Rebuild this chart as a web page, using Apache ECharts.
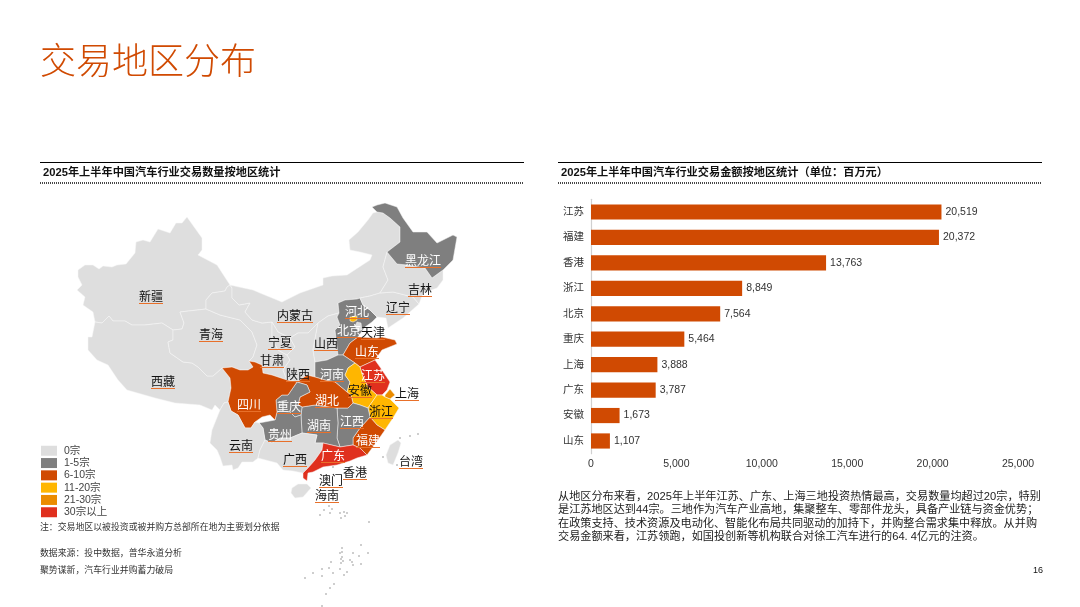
<!DOCTYPE html>
<html><head><meta charset="utf-8">
<style>html,body{margin:0;padding:0;background:#fff}#c{width:1080px;height:607px}</style>
<script src="https://cdn.jsdelivr.net/npm/echarts@6/dist/echarts.min.js"></script>
</head><body><div id="c"></div>
<script>
// ---- data ----
const barCategories = ['江苏','福建','香港','浙江','北京','重庆','上海','广东','安徽','山东'];
const barValues = [20519,20372,13763,8849,7564,5464,3888,3787,1673,1107];

const legendBands = [
  {label:'0宗', min:0, max:0, color:'#DEDEDE'},
  {label:'1-5宗', min:1, max:5, color:'#7F7F7F'},
  {label:'6-10宗', min:6, max:10, color:'#D04A02'},
  {label:'11-20宗', min:11, max:20, color:'#FFB600'},
  {label:'21-30宗', min:21, max:30, color:'#EB8C00'},
  {label:'30宗以上', min:31, max:999, color:'#E0301E'}
];

// deal count per region (estimated within the band shown by its colour)
const dealCounts = {
  新疆:0,西藏:0,青海:0,甘肃:0,内蒙古:0,宁夏:0,陕西:0,山西:0,辽宁:0,吉林:0,天津:0,云南:0,广西:0,海南:0,台湾:0,香港:0,澳门:0,
  黑龙江:2,河北:3,河南:4,重庆:3,贵州:2,湖南:4,江西:3,
  山东:8,四川:7,湖北:8,福建:7,
  北京:15,安徽:14,浙江:17,
  上海:24,
  广东:32,江苏:44
};

// regions whose name sits on a dark fill
const whiteLabelRegions = ['黑龙江','河北','北京','河南','重庆','贵州','湖南','江西','山东','四川','湖北','福建','广东','江苏'];

// hand-traced province outlines, in the map's own units
const outlines = {
  新疆:[[187,217],[202,238],[202,250],[198,255],[217,265],[230,285],[227,287],[225,291],[212,293],[206,300],[206,309],[180,312],[184,323],[182,329],[173,330],[162,323],[145,325],[132,325],[125,321],[113,321],[109,316],[102,323],[95,322],[93,312],[83,305],[85,297],[77,290],[82,285],[78,277],[78,270],[85,265],[93,265],[99,269],[103,266],[112,267],[117,265],[126,264],[135,253],[136,242],[143,240],[150,242],[158,229],[170,233],[176,223],[182,223]],
  西藏:[[95,322],[102,323],[109,316],[113,321],[125,321],[132,325],[145,325],[162,323],[173,330],[173,340],[168,342],[170,353],[183,362],[192,363],[198,367],[207,376],[213,376],[222,368],[230,378],[231,388],[228,402],[224,403],[220,410],[215,405],[212,410],[200,405],[175,403],[155,398],[127,390],[118,380],[108,365],[97,360],[88,350],[88,337],[92,337]],
  青海:[[180,312],[206,309],[220,315],[240,320],[252,332],[257,345],[253,357],[249,361],[253,367],[248,370],[240,370],[232,367],[222,368],[213,376],[207,376],[198,367],[192,363],[183,362],[170,353],[168,342],[173,340],[173,330],[182,329],[184,323]],
  甘肃:[[230,285],[232,288],[232,298],[239,305],[250,303],[245,312],[252,320],[262,323],[272,322],[272,338],[278,350],[287,355],[290,360],[283,370],[287,380],[272,375],[263,373],[262,365],[255,362],[249,361],[253,357],[257,345],[252,332],[240,320],[220,315],[206,309],[206,300],[212,293],[225,291],[227,287]],
  内蒙古:[[230,285],[253,290],[260,293],[282,302],[300,293],[323,285],[323,278],[332,276],[347,275],[370,260],[372,255],[360,252],[350,250],[349,240],[358,232],[368,220],[373,213],[377,212],[383,213],[390,218],[400,227],[400,242],[387,252],[383,267],[388,280],[380,293],[370,296],[360,298],[357,299],[345,300],[338,303],[339,313],[328,316],[318,323],[308,333],[298,333],[290,338],[278,332],[272,322],[262,323],[252,320],[245,312],[250,303],[239,305],[232,298],[232,288]],
  宁夏:[[272,322],[278,332],[290,338],[295,347],[287,355],[278,350],[272,338]],
  陕西:[[298,333],[308,333],[318,323],[313,350],[315,362],[315,370],[315,377],[307,375],[297,382],[287,380],[283,370],[290,360],[287,355],[295,347],[290,338]],
  山西:[[318,323],[328,316],[339,313],[337,317],[340,325],[335,330],[337,347],[338,355],[327,360],[315,362],[313,350]],
  河北:[[338,303],[345,300],[357,299],[360,298],[363,305],[370,310],[377,317],[372,322],[365,327],[360,334],[358,337],[350,343],[343,355],[338,355],[337,347],[335,330],[340,325],[337,317],[339,313]],
  北京:[[350,317],[357,316],[357,320],[353,322],[350,321]],
  天津:[[357,322],[361,323],[362,330],[358,331],[355,326]],
  辽宁:[[360,298],[370,296],[380,293],[393,292],[413,297],[419,304],[403,318],[388,328],[386,318],[377,317],[370,310],[363,305]],
  吉林:[[387,252],[392,258],[397,264],[407,265],[425,268],[432,278],[443,270],[443,280],[437,288],[423,293],[419,304],[413,297],[393,292],[380,293],[388,280],[383,267]],
  黑龙江:[[372,207],[377,205],[385,203],[397,207],[403,218],[413,232],[427,232],[437,243],[453,235],[457,237],[453,260],[443,270],[432,278],[425,268],[407,265],[397,264],[392,258],[387,252],[400,242],[400,227],[390,218],[383,213],[377,212]],
  山东:[[343,355],[350,343],[358,337],[377,338],[382,337],[395,340],[397,344],[382,350],[375,360],[360,367],[355,363]],
  河南:[[315,362],[327,360],[338,355],[343,355],[355,363],[348,368],[345,375],[350,382],[347,392],[335,382],[325,380],[315,377],[315,370]],
  江苏:[[360,367],[375,360],[380,367],[390,382],[387,390],[382,395],[377,395],[368,387],[363,377]],
  安徽:[[355,363],[360,367],[363,377],[368,387],[377,395],[370,405],[368,408],[360,405],[353,403],[351,395],[347,392],[350,382],[345,375],[348,368]],
  上海:[[385,395],[390,389],[395,395],[390,399],[385,397]],
  浙江:[[377,395],[382,395],[385,397],[390,399],[399,408],[393,418],[385,430],[377,425],[370,417],[368,408],[370,405]],
  福建:[[370,417],[377,425],[385,430],[378,440],[367,455],[360,448],[353,445],[353,438],[360,428]],
  江西:[[337,408],[348,408],[353,403],[360,405],[368,408],[370,417],[360,428],[353,438],[353,445],[340,447],[337,438],[338,423]],
  湖南:[[302,407],[315,405],[337,408],[338,423],[337,438],[340,447],[323,443],[315,443],[317,435],[302,433],[301,415]],
  湖北:[[307,375],[315,377],[325,380],[335,382],[347,392],[351,395],[353,403],[348,408],[337,408],[315,405],[302,407],[298,405],[300,397],[310,392],[307,385],[297,382]],
  重庆:[[297,382],[307,385],[310,392],[300,397],[298,405],[302,407],[301,415],[295,417],[290,412],[280,411],[277,412],[276,400],[282,395],[288,395]],
  贵州:[[259,423],[275,420],[277,412],[280,411],[290,412],[295,417],[301,415],[302,433],[290,438],[280,438],[272,443],[265,440],[263,428]],
  四川:[[222,368],[232,367],[240,370],[248,370],[253,367],[249,361],[255,362],[262,365],[263,373],[272,375],[287,380],[297,382],[288,395],[282,395],[276,400],[277,412],[275,420],[270,415],[262,417],[255,422],[251,428],[245,428],[238,415],[231,411],[228,402],[231,388],[230,378]],
  云南:[[228,402],[231,411],[238,415],[245,428],[251,428],[255,422],[259,423],[263,428],[265,440],[260,450],[258,458],[253,462],[242,462],[238,468],[233,470],[232,465],[223,466],[220,457],[217,450],[210,443],[212,430],[220,410],[224,403]],
  广西:[[265,440],[272,443],[280,438],[290,438],[302,433],[317,435],[315,443],[323,443],[322,450],[315,460],[308,468],[303,473],[293,471],[283,470],[277,463],[258,458],[260,450]],
  广东:[[323,443],[340,447],[353,445],[360,448],[367,455],[357,458],[350,461],[337,465],[323,467],[313,472],[308,473],[307,481],[303,478],[303,473],[308,468],[315,460],[322,450]],
  海南:[[292,488],[298,484],[307,484],[311,488],[303,497],[295,498],[291,493]],
  台湾:[[398,440],[401,443],[398,453],[393,465],[388,463],[386,455],[390,445]],
  香港:[[336,465],[337,465],[337,466],[336,466]],
  澳门:[[332,467],[333,467],[333,468],[332,468]]
};

// label anchor per region, in the same map units
const labelAnchors = {
  新疆:[151,297],青海:[211,335],西藏:[163,382],内蒙古:[295,316],宁夏:[280,343],甘肃:[272,361],陕西:[298,375],山西:[326,344],河北:[357,312],北京:[349,331],天津:[373,333],辽宁:[398,308],吉林:[420,290],黑龙江:[423,261],山东:[367,352],江苏:[373,376],安徽:[360,391],上海:[407,394],浙江:[381,412],河南:[332,375],湖北:[327,401],四川:[249,405],重庆:[289,407],贵州:[280,435],湖南:[319,426],江西:[352,422],福建:[368,441],云南:[241,446],广西:[295,460],广东:[333,456],香港:[355,473],澳门:[331,481],海南:[327,496],台湾:[411,462]
};

// small islands, map units
const islands = [[329,506],[324,510],[332,509],[320,515],[330,513],[340,513],[344,512],[347,513],[345,516],[341,518],[369,522],[361,545],[342,548],[342,552],[340,553],[353,553],[368,553],[359,556],[342,557],[341,559],[350,560],[343,561],[352,562],[331,562],[341,563],[361,564],[353,565],[329,568],[340,569],[322,569],[347,572],[333,573],[313,573],[344,575],[322,576],[305,578],[334,584],[330,588],[326,594],[322,606],[400,438],[410,436],[418,434],[383,457],[397,465],[363,477],[333,467]];

const paragraphLines = [
  '从地区分布来看，2025年上半年江苏、广东、上海三地投资热情最高，交易数量均超过20宗，特别',
  '是江苏地区达到44宗。三地作为汽车产业高地，集聚整车、零部件龙头，具备产业链与资金优势；',
  '在政策支持、技术资源及电动化、智能化布局共同驱动的加持下，并购整合需求集中释放。从并购',
  '交易金额来看，江苏领跑，如国投创新等机构联合对徐工汽车进行的64. 4亿元的注资。'
];

// ---- chart ----
const FONT = '"Liberation Sans","Noto Sans CJK SC",sans-serif';
const geoJson = {type:'FeatureCollection',features:Object.keys(outlines).map(n=>({
  type:'Feature',
  properties:{name:n,cp:labelAnchors[n]},
  geometry:{type:'Polygon',coordinates:[outlines[n].concat([outlines[n][0]])]}
}))};
echarts.registerMap('dealMap',geoJson);

const identity = {project:p=>p,unproject:p=>p};
const mapFrame = {projection:identity,boundingCoords:[[0,0],[1080,607]],left:0,top:0,width:1080,height:607};

function txt(text,x,y,size,fill,extra){
  return {type:'text',silent:true,style:Object.assign({text,x,y,fill,font:size+'px '+FONT,textVerticalAlign:'middle'},extra||{})};
}
function rule(x1,x2,y,w,dash){
  return {type:'line',silent:true,shape:{x1,y1:y,x2,y2:y},style:{stroke:dash?'#333':'#000',lineWidth:w,lineDash:dash||null}};
}
const graphics = [
  txt('交易地区分布',40,60,36,'#D04A02',{font:'300 36px "Noto Sans CJK SC",sans-serif'}),
  rule(40,524,162.5,1), rule(558,1042,162.5,1),
  rule(40,524,183,1.8,[1,1]), rule(558,1042,183,1.8,[1,1]),
  txt('2025年上半年中国汽车行业交易数量按地区统计',43,173,11.2,'#111',{font:'bold 11.2px '+FONT}),
  txt('2025年上半年中国汽车行业交易金额按地区统计（单位：百万元）',561,173,11.2,'#111',{font:'bold 11.2px '+FONT}),
  txt('注：交易地区以被投资或被并购方总部所在地为主要划分依据',40,528,8.9,'#333'),
  txt('数据来源：投中数据，普华永道分析',40,554,8.9,'#333'),
  txt('聚势谋新，汽车行业并购蓄力破局',40,571,8.9,'#333'),
  txt('16',1033,571,9,'#111')
].concat(paragraphLines.map((s,i)=>txt(s,558,497+i*13.4,11.15,'#222')));

function labelText(p){
  const key = whiteLabelRegions.includes(p.name) ? 'w' : 'k';
  return '{'+key+'|'+p.name+'}\n{u'+p.name.length+'|}';
}
const rich = {
  w:{fontSize:12,color:'#fff',lineHeight:13,fontFamily:'"Noto Sans CJK SC"'},
  k:{fontSize:12,color:'#111',lineHeight:13,fontFamily:'"Noto Sans CJK SC"'},
  u2:{width:24,height:1,lineHeight:1,backgroundColor:'#E8702A'},
  u3:{width:36,height:1,lineHeight:1,backgroundColor:'#E8702A'}
};

const chart = echarts.init(document.getElementById('c'));
chart.setOption({
  animation:false,
  textStyle:{fontFamily:FONT},
  geo:Object.assign({map:'dealMap',silent:true,z:1,itemStyle:{areaColor:'rgba(0,0,0,0)',borderColor:'rgba(0,0,0,0)'},label:{show:false}},mapFrame),
  visualMap:{
    type:'piecewise',seriesIndex:0,left:26,top:430.5,orient:'vertical',align:'left',inverse:true,
    itemWidth:16,itemHeight:10,itemGap:1.8,itemSymbol:'rect',hoverLink:false,selectedMode:false,
    textGap:7,textStyle:{fontSize:10.5,color:'#444',fontFamily:FONT},
    pieces:legendBands.map(b=>({min:b.min,max:b.max,label:b.label,color:b.color}))
  },
  grid:{left:591,top:199.3,width:427,height:254.4,containLabel:false},
  xAxis:{type:'value',min:0,max:25000,interval:5000,splitLine:{show:false},axisLine:{show:false},axisTick:{show:false},
    axisLabel:{fontSize:10.5,color:'#333',margin:5,formatter:v=>v.toLocaleString('en-US')}},
  yAxis:{type:'category',inverse:true,data:barCategories,axisLine:{show:true,lineStyle:{color:'#D0D0D0',width:1.2}},axisTick:{show:false},
    axisLabel:{fontSize:10.5,color:'#333',margin:7}},
  series:[
    Object.assign({type:'map',map:'dealMap',z:2,silent:true,selectedMode:false,aspectScale:1,
      itemStyle:{borderColor:'#F6F6F6',borderWidth:0.5},
      label:{show:true,formatter:labelText,rich},
      data:Object.keys(dealCounts).map(n=>({name:n,value:dealCounts[n]}))},mapFrame),
    {type:'scatter',coordinateSystem:'geo',geoIndex:0,z:3,silent:true,symbolSize:1.6,itemStyle:{color:'#777'},data:islands},
    {type:'bar',silent:true,barWidth:15.2,data:barValues,itemStyle:{color:'#D04A02'},
      label:{show:true,position:'right',distance:4,fontSize:10.5,color:'#333',formatter:p=>p.value.toLocaleString('en-US')}}
  ],
  graphic:graphics
});
</script></body></html>
